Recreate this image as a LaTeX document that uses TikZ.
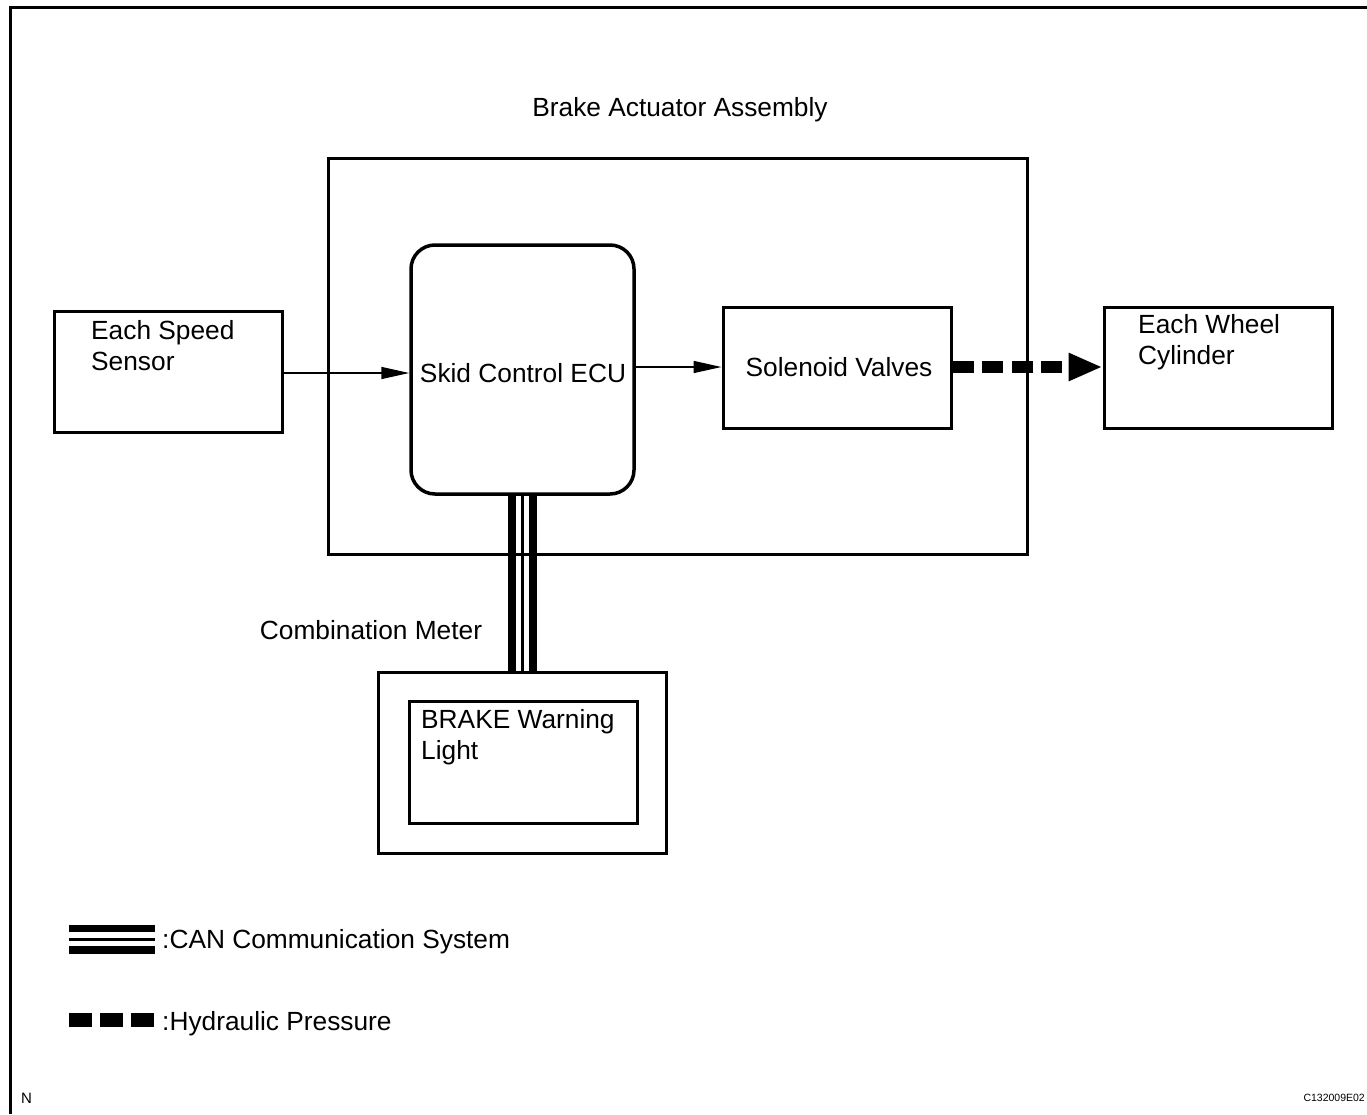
\documentclass[tikz,border=0pt]{standalone}
\usepackage{fontspec}
\setmainfont{Liberation Sans}
\usetikzlibrary{arrows.meta}
\begin{document}
\begin{tikzpicture}[x=1pt,y=-1pt,
  box/.style={draw,line width=3pt,rectangle,inner sep=0pt},
  lbl/.style={inner sep=0pt,font=\fontsize{26.3}{31.5}\selectfont,align=left},
  small/.style={inner sep=0pt,font=\fontsize{10.5}{12}\selectfont},
  sig/.style={line width=1.5pt,-{Triangle[length=28pt,width=12pt]}},
  hyd/.style={line width=12pt,dash pattern=on 21pt off 8.5pt,-{Triangle[length=34pt,width=26pt]}},
  canthick/.style={line width=8pt},
  canthin/.style={line width=2.5pt}]
\useasboundingbox (0,0) rectangle (1367,1114);
% frame
\draw[line width=3pt] (10,1114) -- (10,7) -- (1367,7);
% title
\node[lbl] (title) at (680,110) {Brake Actuator Assembly};
% boxes
\node[box,minimum width=699pt,minimum height=396pt] (act) at (677.5,356) {};
\node[box,rounded corners=24pt,line width=3.5pt,minimum width=223pt,minimum height=249pt] (ecu) at (522.5,369.5) {};
\node[lbl] (ecut) at (523,373) {Skid Control ECU};
\node[box,minimum width=228pt,minimum height=121pt] (speed) at (168,371.5) {};
\node[lbl,anchor=north west] (speedt) at (91,320) {Each Speed\\Sensor};
\node[box,minimum width=228pt,minimum height=121pt] (sol) at (837,367.5) {};
\node[lbl] (solt) at (839,367) {Solenoid Valves};
\node[box,minimum width=228pt,minimum height=121pt] (wheel) at (1218,367.5) {};
\node[lbl,anchor=north west] (wheelt) at (1138,314) {Each Wheel\\Cylinder};
\node[box,minimum width=288pt,minimum height=181pt] (meter) at (522,762.5) {};
\node[box,minimum width=228pt,minimum height=122pt] (light) at (523,762) {};
\node[lbl,anchor=north west] (lightt) at (421,709) {BRAKE Warning\\Light};
\node[lbl] (metert) at (371,630) {Combination Meter};
% connectors
\draw[sig] (speed.east |- 0,373) -- (ecu.west |- 0,373);
\draw[sig] (ecu.east |- 0,367) -- (sol.west |- 0,367);
\draw[hyd] (sol.east |- 0,367) -- (wheel.west |- 0,367);
% CAN bus
\draw[canthick] ([xshift=-11pt]ecu.south) -- ([xshift=-11pt]ecu.south |- meter.north);
\draw[canthin] (ecu.south) -- (ecu.south |- meter.north);
\draw[canthick] ([xshift=10.5pt]ecu.south) -- ([xshift=10.5pt]ecu.south |- meter.north);
% legend
\coordinate (canA) at (69,939.5);
\coordinate (canB) at (155,939.5);
\draw[canthick] ([yshift=-10pt]canA) -- ([yshift=-10pt]canB);
\draw[line width=3pt] (canA) -- (canB);
\draw[line width=7pt] ([yshift=11pt]canA) -- ([yshift=11pt]canB);
\node[lbl,anchor=west] (cant) at (162,941.5) {:CAN Communication System};
\coordinate (hydA) at (69,1020);
\coordinate (hydB) at (156,1020);
\draw[line width=14pt,dash pattern=on 23pt off 8pt] (hydA) -- (hydB);
\node[lbl,anchor=west] (hydt) at (162,1023.5) {:Hydraulic Pressure};
% corner marks
\node[inner sep=0pt,font=\fontsize{15}{18}\selectfont,anchor=west] (nmark) at (21,1098) {N};
\node[small,anchor=east] (code) at (1365,1098) {C132009E02};
\end{tikzpicture}
\end{document}
